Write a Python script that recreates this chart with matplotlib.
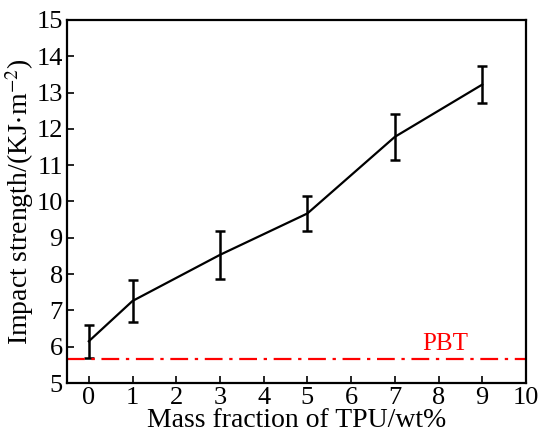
import numpy as np
import matplotlib.pyplot as plt

plt.rcParams['font.family'] = ['Liberation Serif', 'DejaVu Serif']
plt.rcParams['mathtext.fontset'] = 'stix'

# data
tpu = [0, 1, 3, 5, 7, 9]
impact = [6.15, 7.26, 8.53, 9.67, 11.78, 13.22]
err = [0.45, 0.58, 0.66, 0.47, 0.63, 0.52]
pbt = 5.67

fig = plt.figure(figsize=(5.4, 4.34), dpi=100)
ax = fig.add_axes([0.124, 0.1175, 0.850, 0.8365])

ax.errorbar(tpu, impact, yerr=err, color='black', lw=1.6, elinewidth=1.8,
            capsize=3.5, capthick=1.8)
ax.axhline(pbt, color='red', ls=(0, (8, 3, 1.5, 3)), lw=1.6)
ax.text(8.15, pbt + 0.1, 'PBT', color='red', fontsize=18, ha='center', va='bottom')

ax.set_xlim(-0.5, 10)
ax.set_ylim(5, 15)
ax.set_xticks(range(0, 11))
ax.set_yticks(range(5, 16))
ax.tick_params(direction='in', labelsize=19, length=5, width=1.2,
               top=False, right=False, pad=3)
for s in ax.spines.values():
    s.set_linewidth(1.6)

ax.set_xlabel('Mass fraction of TPU/wt%', fontsize=20, labelpad=-1)
ax.set_ylabel(r'Impact strength/(KJ$\!\cdot\!$m$^{-2}$)', fontsize=20, labelpad=0)

plt.savefig('out.png', dpi=100)
